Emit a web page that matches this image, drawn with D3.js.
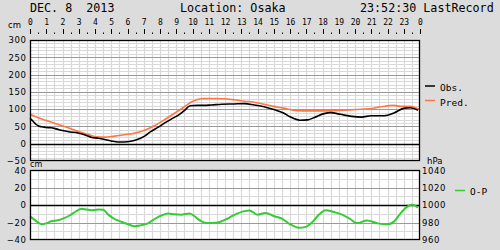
<!DOCTYPE html>
<html><head><meta charset="utf-8">
<script src="https://cdn.jsdelivr.net/npm/d3@7"></script>
<style>
html,body{margin:0;padding:0;background:#dcdcdc;}
svg{display:block;}
text{white-space:pre;}
</style></head>
<body>
<svg id="c" width="500" height="250"></svg>
<script>
// ---- data ----
const titleDate = "DEC. 8  2013";
const titleLoc = "Location: Osaka";
const titleTime = "23:52:30 LastRecord";
const hourLabels = ["0","1","2","3","4","5","6","7","8","9","10","11","12","13","14","15","16","17","18","19","20","21","22","23","0"];
const tideTicks = [-50,0,50,100,150,200,250,300];
const opTicks = [-40,-20,0,20,40];
const hpaTicks = [960,980,1000,1020,1040];
const seriesNames = ["Obs.","Pred.","O-P"];

const obsHours = [0,0.15,0.35,0.5,0.7,1.0,1.3,1.6,2.0,2.5,2.95,3.4,3.8,4.2,4.6,5.0,5.4,5.8,6.2,6.6,7.05,7.4,7.9,8.4,8.8,9.2,9.55,9.85,10.3,10.7,11.15,11.8,12.55,13.2,13.8,14.4,15.0,15.6,16.0,16.6,17.1,17.5,18.1,18.5,19.1,19.8,20.4,21.0,21.8,22.4,23.05,23.4,23.87];
const obsValues = [73,67,57,52,49,47,46,43,38,34,31,25,18,16,12,8,5,5,7,12,22,34,48,63,74,85,98,110,111,111,112,114,115,116,112,107,99,89,78,68,69,76,87,90,85,79,77,81,81,89,103,104,97];

const predHours = [0,0.5,1.1,1.7,2.35,2.95,3.55,4.05,4.6,5.2,5.8,6.4,7.05,7.65,8.3,8.9,9.5,9.9,10.3,10.7,11.3,11.94,12.55,13.2,13.8,14.4,15.0,15.6,16.2,16.8,17.6,18.5,19.3,20.1,20.9,21.6,22.4,22.8,23.4,24];
const predValues = [85,75,66,56,46,36,27,20,19,22,26,30,39,52,70,88,107,120,128,131,131,130,127,123,120,114,108,103,97,95,95,95,97,99,101,107,111,108,108,98];

const opHours = [0,0.29,0.7,1.0,1.3,1.72,2.03,2.44,2.85,3.16,3.47,3.77,4.2,4.5,4.8,5.2,5.6,6.03,6.44,6.85,7.26,7.67,8.08,8.5,8.9,9.3,9.82,10.1,10.5,10.9,11.4,11.8,12.1,12.55,13.2,13.5,14.0,14.5,15.0,15.5,16.0,16.55,16.96,17.4,17.8,18.2,18.7,19.2,19.7,20.1,20.75,21.4,22.0,22.4,22.8,23.2,23.5,23.7,23.87];
const opValues = [-13,-17,-22,-21,-18.5,-17.4,-15.5,-12,-7,-4.4,-5.2,-6,-5.2,-5.5,-10.7,-16,-19,-22,-24.4,-23,-21,-16,-12,-9.6,-10.7,-11,-9.6,-12.6,-18,-20.7,-20.4,-18.5,-16,-11.5,-7,-6.3,-11,-9,-12.6,-15.5,-22,-26,-25,-19,-10.7,-6,-8,-11,-16,-20.7,-17.8,-21,-22,-19,-9.6,-2.2,0.4,-0.7,-3.3];

// ---- layout ----
const svg = d3.select("#c");
const L = 30, R = 420;
const x = d3.scaleLinear().domain([0,24]).range([L,R]);
const yT = d3.scaleLinear().domain([-50,300]).range([161,40]);
const yB = d3.scaleLinear().domain([-40,40]).range([240,170]);
const yP = d3.scaleLinear().domain([960,1040]).range([240,170]);
const mono = "DejaVu Sans Mono";
const sans = "DejaVu Sans";

// titles
[[30,titleDate],[180,titleLoc],[360,titleTime]].forEach(([tx,t])=>{
  svg.append("text").attr("x",tx).attr("y",12).text(t).attr("font-family",mono).attr("font-size",11.7).attr("fill","#000");
});

// hour labels and ticks
const hrs = d3.range(0,25);
svg.append("g").selectAll("text").data(hrs).join("text")
  .attr("x",d=>x(d)+0.5).attr("y",25).attr("text-anchor","middle")
  .attr("font-family",mono).attr("font-size",8).text(d=>hourLabels[d]);
svg.append("g").selectAll("line").data(d3.range(0,48.5).map(i=>i/2)).join("line")
  .attr("x1",d=>Math.round(x(d))+0.5).attr("x2",d=>Math.round(x(d))+0.5)
  .attr("y1",d=>Number.isInteger(d)?29:32.5).attr("y2",34)
  .attr("stroke","#000").attr("stroke-width",1);

svg.append("text").attr("x",8).attr("y",28).text("cm").attr("font-family",sans).attr("font-size",8.5);

function panel(y, yDom, minorStep, majorVals){
  const g = svg.append("g");
  g.append("rect").attr("x",L).attr("y",y.range()[1]).attr("width",R-L).attr("height",y.range()[0]-y.range()[1]).attr("fill","#fff");
  g.selectAll(".v").data(d3.range(1,48).map(i=>i/2)).join("line")
    .attr("x1",d=>Math.round(x(d))+0.5).attr("x2",d=>Math.round(x(d))+0.5)
    .attr("y1",y.range()[1]).attr("y2",y.range()[0]).attr("stroke","#d9d9d9").attr("stroke-width",1.2);
  g.selectAll(".h").data(d3.range(yDom[0],yDom[1]+0.1,minorStep)).join("line")
    .attr("x1",L).attr("x2",R).attr("y1",d=>Math.round(y(d))+0.5).attr("y2",d=>Math.round(y(d))+0.5)
    .attr("stroke","#d9d9d9").attr("stroke-width",1.2);
  g.selectAll(".m").data(majorVals).join("line")
    .attr("x1",L).attr("x2",R).attr("y1",d=>Math.round(y(d))+0.5).attr("y2",d=>Math.round(y(d))+0.5)
    .attr("stroke",d=>d===0?"#000":"#999").attr("stroke-width",d=>d===0?1.5:1.2);
  return g;
}
panel(yT,[-50,300],10,[0,50,100,150,200,250]);
panel(yB,[-40,40],10,[-20,0,20]);

// series
const line = (yS)=>d3.line().x(d=>x(d[0])).y(d=>yS(d[1])).curve(d3.curveMonotoneX);
svg.append("path").datum(predHours.map((h,i)=>[h,predValues[i]])).attr("d",line(yT))
  .attr("fill","none").attr("stroke","#ff7744").attr("stroke-width",1.6);
svg.append("path").datum(obsHours.map((h,i)=>[h,obsValues[i]])).attr("d",line(yT))
  .attr("fill","none").attr("stroke","#000").attr("stroke-width",1.6);
svg.append("path").datum(opHours.map((h,i)=>[h,opValues[i]])).attr("d",line(yB))
  .attr("fill","none").attr("stroke","#33cc33").attr("stroke-width",2);

// frames
svg.append("rect").attr("x",L+0.5).attr("y",40.5).attr("width",R-L-1).attr("height",120).attr("fill","none").attr("stroke","#000").attr("stroke-width",1.3);
svg.append("rect").attr("x",L+0.5).attr("y",170.5).attr("width",R-L-1).attr("height",69).attr("fill","none").attr("stroke","#000").attr("stroke-width",1.3);

// axes
function styleAxis(g){
  g.select(".domain").remove();
  g.selectAll("text").attr("font-family",sans).attr("font-size",8.5).attr("letter-spacing",0.6).attr("fill","#000");
}
const minus = d=>d<0?"\u2212"+(-d):String(d);
const gT = svg.append("g").attr("transform",`translate(${L},0)`)
  .call(d3.axisLeft(yT).tickValues(tideTicks).tickSize(0).tickPadding(3.5).tickFormat(minus)).call(styleAxis);
gT.selectAll(".tick").filter(d=>d===-50).select("text").attr("y",-0.5);
const gB = svg.append("g").attr("transform",`translate(${L},0)`)
  .call(d3.axisLeft(yB).tickValues(opTicks).tickSize(0).tickPadding(3.5).tickFormat(minus)).call(styleAxis);
gB.selectAll(".tick").filter(d=>d===40).select("text").attr("y",1);
const gP = svg.append("g").attr("transform",`translate(${R},0)`)
  .call(d3.axisRight(yP).tickValues(hpaTicks).tickSize(0).tickPadding(2).tickFormat(d3.format("d"))).call(styleAxis);
gP.selectAll(".tick").filter(d=>d===1040).select("text").attr("y",1);
svg.append("text").attr("x",30).attr("y",167).text("cm").attr("font-family",sans).attr("font-size",8);
svg.append("text").attr("x",427).attr("y",163.5).text("hPa").attr("font-family",sans).attr("font-size",8.5);

// legend
const leg = [
  {name:seriesNames[0],color:"#000",x1:425,y:86,tx:440,ty:90.5},
  {name:seriesNames[1],color:"#ff7744",x1:425,y:100.5,tx:440,ty:105.5},
  {name:seriesNames[2],color:"#33cc33",x1:455,y:190.5,tx:470,ty:195}
];
const lg = svg.append("g");
leg.forEach(l=>{
  lg.append("line").attr("x1",l.x1).attr("x2",l.x1+10).attr("y1",l.y).attr("y2",l.y).attr("stroke",l.color).attr("stroke-width",1.5);
  lg.append("text").attr("x",l.tx).attr("y",l.ty).text(l.name).attr("font-family",mono).attr("font-size",9.5);
});
</script>
</body></html>
